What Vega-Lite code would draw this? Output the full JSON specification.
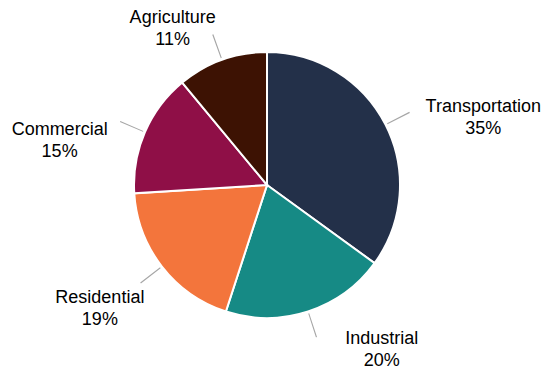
{
  "$schema": "https://vega.github.io/schema/vega-lite/v6.json",
  "autosize": "none",
  "width": 534,
  "height": 370,
  "padding": {"left": 0, "top": 0, "right": 15, "bottom": 4},
  "background": "white",
  "config": {"view": {"stroke": null}},
  "data": {
    "values": [
      {"category": "Transportation", "value": 35, "rank": 1},
      {"category": "Industrial", "value": 20, "rank": 2},
      {"category": "Residential", "value": 19, "rank": 3},
      {"category": "Commercial", "value": 15, "rank": 4},
      {"category": "Agriculture", "value": 11, "rank": 5}
    ]
  },
  "transform": [
    {"window": [{"op": "sum", "field": "value", "as": "cum"}], "sort": [{"field": "rank"}], "frame": [null, 0]},
    {"calculate": "datum.cum - datum.value / 2", "as": "mid"},
    {"calculate": "datum.mid - 0.06", "as": "midA"},
    {"calculate": "datum.mid + 0.06", "as": "midB"},
    {"calculate": "datum.category + '\\n' + datum.value + '%'", "as": "label"}
  ],
  "layer": [
    {
      "mark": {"type": "arc", "radius": 133, "stroke": "white", "strokeWidth": 2},
      "encoding": {
        "theta": {"field": "value", "type": "quantitative", "stack": true, "scale": {"domain": [0, 100]}},
        "order": {"field": "rank", "type": "quantitative"},
        "color": {
          "field": "category", "type": "nominal", "legend": null,
          "scale": {
            "domain": ["Transportation", "Industrial", "Residential", "Commercial", "Agriculture"],
            "range": ["#233049", "#168A85", "#F3753C", "#8F0F47", "#3D1203"]
          }
        }
      }
    },
    {
      "mark": {"type": "arc", "radius": 135, "radius2": 160, "fill": "#A6A6A6", "stroke": null},
      "encoding": {
        "theta": {"field": "midA", "type": "quantitative", "stack": null, "scale": {"domain": [0, 100]}},
        "theta2": {"field": "midB"}
      }
    },
    {
      "transform": [{"filter": "datum.category == 'Transportation'"}],
      "mark": {"type": "text", "radius": 190, "dx": 47, "dy": 13, "align": "center", "baseline": "alphabetic", "lineBreak": "\n", "lineHeight": 22, "font": "Liberation Sans", "fontSize": 18, "color": "#000000"},
      "encoding": {
        "theta": {"field": "mid", "type": "quantitative", "stack": null, "scale": {"domain": [0, 100]}},
        "text": {"field": "label"}
      }
    },
    {
      "transform": [{"filter": "datum.category == 'Industrial'"}],
      "mark": {"type": "text", "radius": 190, "dx": 56, "dy": -22, "align": "center", "baseline": "alphabetic", "lineBreak": "\n", "lineHeight": 22, "font": "Liberation Sans", "fontSize": 18, "color": "#000000"},
      "encoding": {
        "theta": {"field": "mid", "type": "quantitative", "stack": null, "scale": {"domain": [0, 100]}},
        "text": {"field": "label"}
      }
    },
    {
      "transform": [{"filter": "datum.category == 'Residential'"}],
      "mark": {"type": "text", "radius": 190, "dx": -17, "dy": 2, "align": "center", "baseline": "alphabetic", "lineBreak": "\n", "lineHeight": 22, "font": "Liberation Sans", "fontSize": 18, "color": "#000000"},
      "encoding": {
        "theta": {"field": "mid", "type": "quantitative", "stack": null, "scale": {"domain": [0, 100]}},
        "text": {"field": "label"}
      }
    },
    {
      "transform": [{"filter": "datum.category == 'Commercial'"}],
      "mark": {"type": "text", "radius": 190, "dx": -33, "dy": 25, "align": "center", "baseline": "alphabetic", "lineBreak": "\n", "lineHeight": 22, "font": "Liberation Sans", "fontSize": 18, "color": "#000000"},
      "encoding": {
        "theta": {"field": "mid", "type": "quantitative", "stack": null, "scale": {"domain": [0, 100]}},
        "text": {"field": "label"}
      }
    },
    {
      "transform": [{"filter": "datum.category == 'Agriculture'"}],
      "mark": {"type": "text", "radius": 190, "dx": -30, "dy": 17, "align": "center", "baseline": "alphabetic", "lineBreak": "\n", "lineHeight": 22, "font": "Liberation Sans", "fontSize": 18, "color": "#000000"},
      "encoding": {
        "theta": {"field": "mid", "type": "quantitative", "stack": null, "scale": {"domain": [0, 100]}},
        "text": {"field": "label"}
      }
    }
  ]
}
